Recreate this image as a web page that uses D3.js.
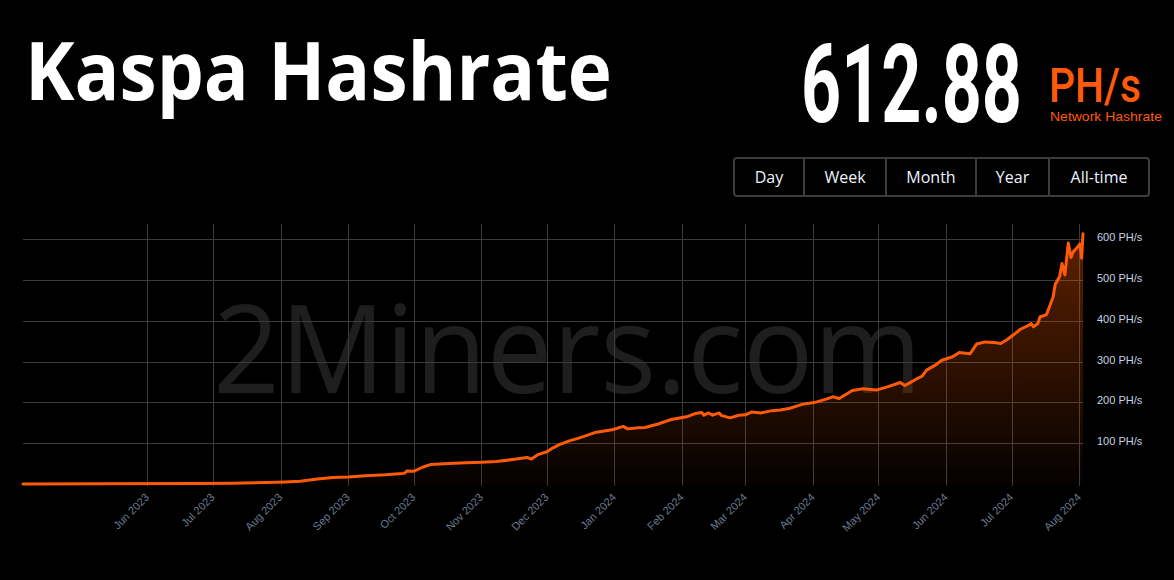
<!DOCTYPE html>
<html>
<head>
<meta charset="utf-8">
<script src="https://cdn.jsdelivr.net/npm/d3@7"></script>
<style>
  html, body { margin: 0; padding: 0; background: #000; }
  svg { display: block; }
</style>
</head>
<body>
<svg id="chart" width="1174" height="580"></svg>
<script>
// ---- data ----
const hashDates = [
  "2023-04-05","2023-05-10","2023-06-25","2023-07-10","2023-07-26","2023-08-03","2023-08-10",
  "2023-08-19","2023-08-25","2023-09-01","2023-09-09","2023-09-18","2023-09-26","2023-09-27",
  "2023-09-28","2023-10-01","2023-10-05","2023-10-09","2023-10-17","2023-10-25","2023-11-01",
  "2023-11-08","2023-11-17","2023-11-22","2023-11-24","2023-11-27","2023-12-01","2023-12-03",
  "2023-12-07","2023-12-11","2023-12-16","2023-12-23","2023-12-31","2024-01-05","2024-01-07",
  "2024-01-12","2024-01-15","2024-01-21","2024-01-27","2024-02-03","2024-02-07","2024-02-10",
  "2024-02-11","2024-02-13","2024-02-15","2024-02-18","2024-02-19","2024-02-23","2024-02-27",
  "2024-03-01","2024-03-04","2024-03-08","2024-03-12","2024-03-17","2024-03-21",
  "2024-03-27","2024-04-02","2024-04-07","2024-04-10","2024-04-13","2024-04-19",
  "2024-04-24","2024-04-30","2024-05-05","2024-05-11","2024-05-13","2024-05-18","2024-05-21",
  "2024-05-23","2024-05-27","2024-05-30","2024-06-04","2024-06-07","2024-06-12","2024-06-15",
  "2024-06-19","2024-06-24","2024-06-26","2024-06-29","2024-07-02","2024-07-05","2024-07-09",
  "2024-07-10","2024-07-11","2024-07-13","2024-07-14","2024-07-17","2024-07-20","2024-07-21",
  "2024-07-23","2024-07-24T02:00","2024-07-24T16:00","2024-07-25T10:00","2024-07-26T23:00",
  "2024-07-28T05:00","2024-07-29T06:00","2024-07-31T02:00","2024-08-01T07:00","2024-08-02T02:00",
  "2024-08-02T17:00"
];
const hashValues = [
  0.3, 0.5, 1, 2, 3.5, 5, 7,
  13, 16, 17, 20, 22.5, 26, 27,
  32, 31, 41, 48, 50, 52, 53,
  55, 61, 65, 61, 72, 79, 86,
  97, 105, 113, 126, 133, 141, 135,
  137.5, 138.5, 147, 158, 164.5, 172.5, 175,
  168.5, 174, 168.5, 174, 168, 162, 168.5,
  169.5, 176.5, 174, 178.5, 181, 185,
  195, 200, 208, 213.5, 209.5, 229,
  233, 230, 238, 248.5, 241, 256, 264,
  279, 291, 303, 311.5, 322, 319, 343,
  348, 346, 344, 354, 366, 379, 389,
  393, 385, 393, 409, 415, 458, 489,
  508, 540, 528, 512, 590,
  555, 569, 579, 588, 553,
  612.88
];
const xDomain = ["2023-04-05", "2024-08-02T17:00"];
const monthTicks = [
  "2023-06-01","2023-07-01","2023-08-01","2023-09-01","2023-10-01","2023-11-01","2023-12-01",
  "2024-01-01","2024-02-01","2024-03-01","2024-04-01","2024-05-01","2024-06-01","2024-07-01","2024-08-01"
];
const yTicks = [100, 200, 300, 400, 500, 600];
const yUnit = "PH/s";
const titleText = "Kaspa Hashrate";
const currentValue = "612.88";
const currentUnit = "PH/s";
const currentLabel = "Network Hashrate";
const periodButtons = ["Day", "Week", "Month", "Year", "All-time"];
const watermark = "2Miners.com";

// ---- helpers ----
const parseT = d3.utcParse("%Y-%m-%dT%H:%M");
const toDate = s => parseT(s.length === 10 ? s + "T00:00" : s);
const data = hashDates.map((d, i) => ({ date: toDate(d), value: hashValues[i] }));

const svg = d3.select("#chart");
const orange = "#ff5a0a";

// squeeze/stretch a text horizontally so it spans `width` px from x
function fitText(sel, x0, y0, width) {
  sel.attr("x", 0).attr("y", 0);
  const w = sel.node().getComputedTextLength();
  sel.attr("transform", `translate(${x0},${y0}) scale(${width / w},1)`);
  return sel;
}

// ---- header ----
fitText(svg.append("text")
  .attr("font-family", "'Open Sans', sans-serif")
  .attr("font-weight", 700)
  .attr("font-size", 80)
  .attr("fill", "#fff")
  .text(titleText), 25, 100, 587);

fitText(svg.append("text")
  .attr("font-family", "Roboto, sans-serif")
  .attr("font-weight", 700)
  .attr("font-size", 110)
  .attr("fill", "#fff")
  .text(currentValue), 801, 121.5, 221);

fitText(svg.append("text")
  .attr("font-family", "Roboto, sans-serif")
  .attr("font-weight", 500)
  .attr("font-size", 49)
  .attr("fill", orange)
  .text(currentUnit), 1049, 101.5, 92);

fitText(svg.append("text")
  .attr("font-family", "'Liberation Sans', Arial, sans-serif")
  .attr("font-size", 13)
  .attr("fill", orange)
  .text(currentLabel), 1050, 121, 112);

// ---- period buttons ----
const btnEdges = [734, 804, 886, 976, 1049, 1149];
const btnG = svg.append("g");
btnG.append("rect")
  .attr("x", 734).attr("y", 158).attr("width", 415).attr("height", 38)
  .attr("rx", 3).attr("fill", "#000").attr("stroke", "#3c3c3c").attr("stroke-width", 2);
periodButtons.forEach((b, i) => {
  if (i > 0) {
    btnG.append("line")
      .attr("x1", btnEdges[i]).attr("x2", btnEdges[i])
      .attr("y1", 158).attr("y2", 196)
      .attr("stroke", "#3c3c3c").attr("stroke-width", 2);
  }
  btnG.append("text")
    .attr("x", (btnEdges[i] + btnEdges[i + 1]) / 2).attr("y", 183)
    .attr("text-anchor", "middle")
    .attr("font-family", "'Open Sans', sans-serif")
    .attr("font-size", 16)
    .attr("fill", "#eef3ff")
    .text(b);
});

// ---- chart ----
const plotLeft = 23, plotRight = 1083, plotTop = 224, plotBottom = 484;
const x = d3.scaleUtc().domain(xDomain.map(toDate)).range([plotLeft, plotRight]);
const y = d3.scaleLinear().domain([0, 600]).range([484, 239]);

// watermark
fitText(svg.append("text")
  .attr("font-family", "'Open Sans', sans-serif")
  .attr("font-size", 122)
  .attr("fill", "#1e1e1e")
  .text(watermark), 213, 393, 709);

// gridlines
const grid = svg.append("g");
grid.selectAll("line.h").data(yTicks).join("line")
  .attr("class", "h")
  .attr("x1", plotLeft).attr("x2", plotRight)
  .attr("y1", d => Math.round(y(d)) + 0.5).attr("y2", d => Math.round(y(d)) + 0.5)
  .attr("stroke", "#3b3b3b").attr("stroke-width", 1);
grid.selectAll("line.v").data(monthTicks.map(toDate)).join("line")
  .attr("class", "v")
  .attr("x1", d => Math.round(x(d)) + 0.5).attr("x2", d => Math.round(x(d)) + 0.5)
  .attr("y1", plotTop).attr("y2", plotBottom + 2)
  .attr("stroke", "#3b3b3b").attr("stroke-width", 1);

// gradient
const defs = svg.append("defs");
const grad = defs.append("linearGradient")
  .attr("id", "areaGrad").attr("gradientUnits", "userSpaceOnUse")
  .attr("x1", 0).attr("x2", 0).attr("y1", y(600)).attr("y2", y(0));
grad.append("stop").attr("offset", 0).attr("stop-color", "#ff5a00").attr("stop-opacity", 0.36);
grad.append("stop").attr("offset", 1).attr("stop-color", "#ff5a00").attr("stop-opacity", 0.02);

svg.append("path")
  .datum(data)
  .attr("fill", "url(#areaGrad)")
  .attr("d", d3.area().x(d => x(d.date)).y0(y(0)).y1(d => y(d.value)));

svg.append("path")
  .datum(data)
  .attr("fill", "none")
  .attr("stroke", orange)
  .attr("stroke-width", 3)
  .attr("stroke-linejoin", "round")
  .attr("stroke-linecap", "round")
  .attr("d", d3.line().x(d => x(d.date)).y(d => y(d.value)));

// y axis labels (right side)
const yAxis = d3.axisRight(y).tickValues(yTicks).tickSize(0).tickPadding(0)
  .tickFormat(d => `${d} ${yUnit}`);
const yg = svg.append("g").attr("transform", `translate(1097,-2)`).call(yAxis);
yg.select(".domain").remove();
yg.selectAll("text")
  .attr("font-family", "'Liberation Sans', Arial, sans-serif")
  .attr("font-size", 11)
  .attr("fill", "#c8d2e2");

// x axis labels (rotated)
const fmt = d3.utcFormat("%b %Y");
const xAxis = d3.axisBottom(x).tickValues(monthTicks.map(toDate)).tickSize(0).tickPadding(0).tickFormat(fmt);
const xg = svg.append("g").attr("transform", `translate(0,${plotBottom})`).call(xAxis);
xg.select(".domain").remove();
xg.selectAll("text")
  .attr("font-family", "'Liberation Sans', Arial, sans-serif")
  .attr("font-size", 11)
  .attr("fill", "#6b7b92")
  .attr("text-anchor", "end")
  .attr("dy", null)
  .attr("y", 0)
  .attr("transform", "translate(2,14) rotate(-45)");
</script>
</body>
</html>
